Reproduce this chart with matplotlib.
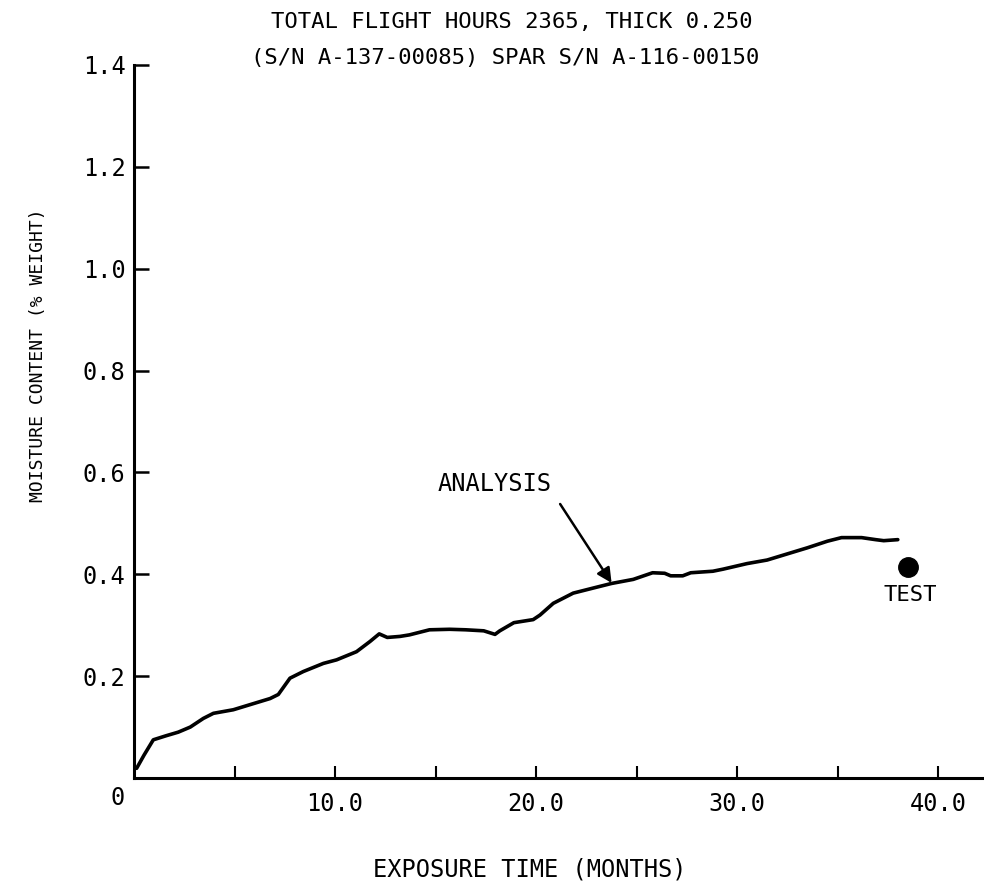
import matplotlib
matplotlib.use('Agg')
import matplotlib.pyplot as plt

# analysis curve
months = [0.13, 0.5, 0.96, 1.6, 2.2, 2.8, 3.45, 3.95, 4.94, 5.77, 6.77, 7.18,
          7.76, 8.42, 9.42, 10.08, 11.07, 11.74, 12.2, 12.6, 13.23, 13.7, 14.7,
          15.7, 16.5, 17.4, 17.96, 18.2, 18.9, 19.86, 20.2, 20.86, 21.85, 22.85,
          23.76, 24.84, 25.8, 26.4, 26.7, 27.3, 27.7, 28.8, 29.3, 30.5, 31.5,
          32.5, 33.5, 34.5, 35.2, 36.2, 36.9, 37.3, 38.0]
moisture = [0.019, 0.045, 0.075, 0.083, 0.09, 0.10, 0.117, 0.127, 0.134, 0.144,
            0.156, 0.164, 0.196, 0.209, 0.225, 0.232, 0.248, 0.268, 0.283, 0.276,
            0.278, 0.281, 0.291, 0.292, 0.291, 0.289, 0.282, 0.289, 0.305, 0.311,
            0.32, 0.343, 0.363, 0.373, 0.382, 0.39, 0.403, 0.402, 0.397, 0.397,
            0.403, 0.406, 0.41, 0.421, 0.428, 0.44, 0.452, 0.465, 0.472, 0.472,
            0.468, 0.466, 0.468]

test_month = [38.5]
test_moisture = [0.415]

x_ticks = [5, 10, 15, 20, 25, 30, 35, 40]
x_labels = ['', '10.0', '', '20.0', '', '30.0', '', '40.0']
y_ticks = [0.2, 0.4, 0.6, 0.8, 1.0, 1.2, 1.4]
y_labels = ['0.2', '0.4', '0.6', '0.8', '1.0', '1.2', '1.4']

title1 = 'TOTAL FLIGHT HOURS 2365, THICK 0.250'
title2 = '(S/N A-137-00085) SPAR S/N A-116-00150'

plt.rcParams['font.family'] = 'DejaVu Sans Mono'

fig = plt.figure(figsize=(9.84, 8.89), dpi=100)
ax = fig.add_axes([134 / 984, 1 - 778 / 889, 1 - 134 / 984, (778 - 65) / 889])

ax.plot(months, moisture, color='black', lw=2.6, solid_capstyle='round')
ax.plot(test_month, test_moisture, 'o', color='black', markersize=14)

ax.set_xlim(0, (984 - 134) / 20.1)
ax.set_ylim(0, 1.4)

for s in ['top', 'right']:
    ax.spines[s].set_visible(False)
for s in ['left', 'bottom']:
    ax.spines[s].set_linewidth(2.2)

ax.set_xticks(x_ticks)
ax.set_xticklabels(x_labels)
ax.set_yticks(y_ticks)
ax.set_yticklabels(y_labels)
ax.tick_params(axis='x', direction='in', length=9, width=1.5, labelsize=17, pad=10)
ax.tick_params(axis='y', direction='in', length=11, width=1.8, labelsize=17, pad=6)

ax.annotate('0', xy=(0, 0), xytext=(-16, -20), textcoords='offset pixels',
            ha='center', va='center', fontsize=17, annotation_clip=False)

ax.text(17.96, 0.578, 'ANALYSIS', fontsize=17, ha='center', va='center')
ax.annotate('', xy=(23.76, 0.383), xytext=(21.2, 0.538),
            arrowprops=dict(arrowstyle='-|>', color='black', lw=1.8,
                            mutation_scale=22, shrinkA=0, shrinkB=0))
ax.text(38.6, 0.36, 'TEST', fontsize=16, ha='center', va='center')

fig.text(512 / 984, 1 - 22 / 889, title1, fontsize=16, ha='center', va='center')
fig.text(505 / 984, 1 - 58 / 889, title2, fontsize=16, ha='center', va='center')
fig.text(530 / 984, 1 - 870 / 889, 'EXPOSURE TIME (MONTHS)', fontsize=17,
         ha='center', va='center')
fig.text(38 / 984, 1 - 355 / 889, 'MOISTURE CONTENT (% WEIGHT)', fontsize=13,
         ha='center', va='center', rotation=90)

fig.savefig('out.png', dpi=100)
